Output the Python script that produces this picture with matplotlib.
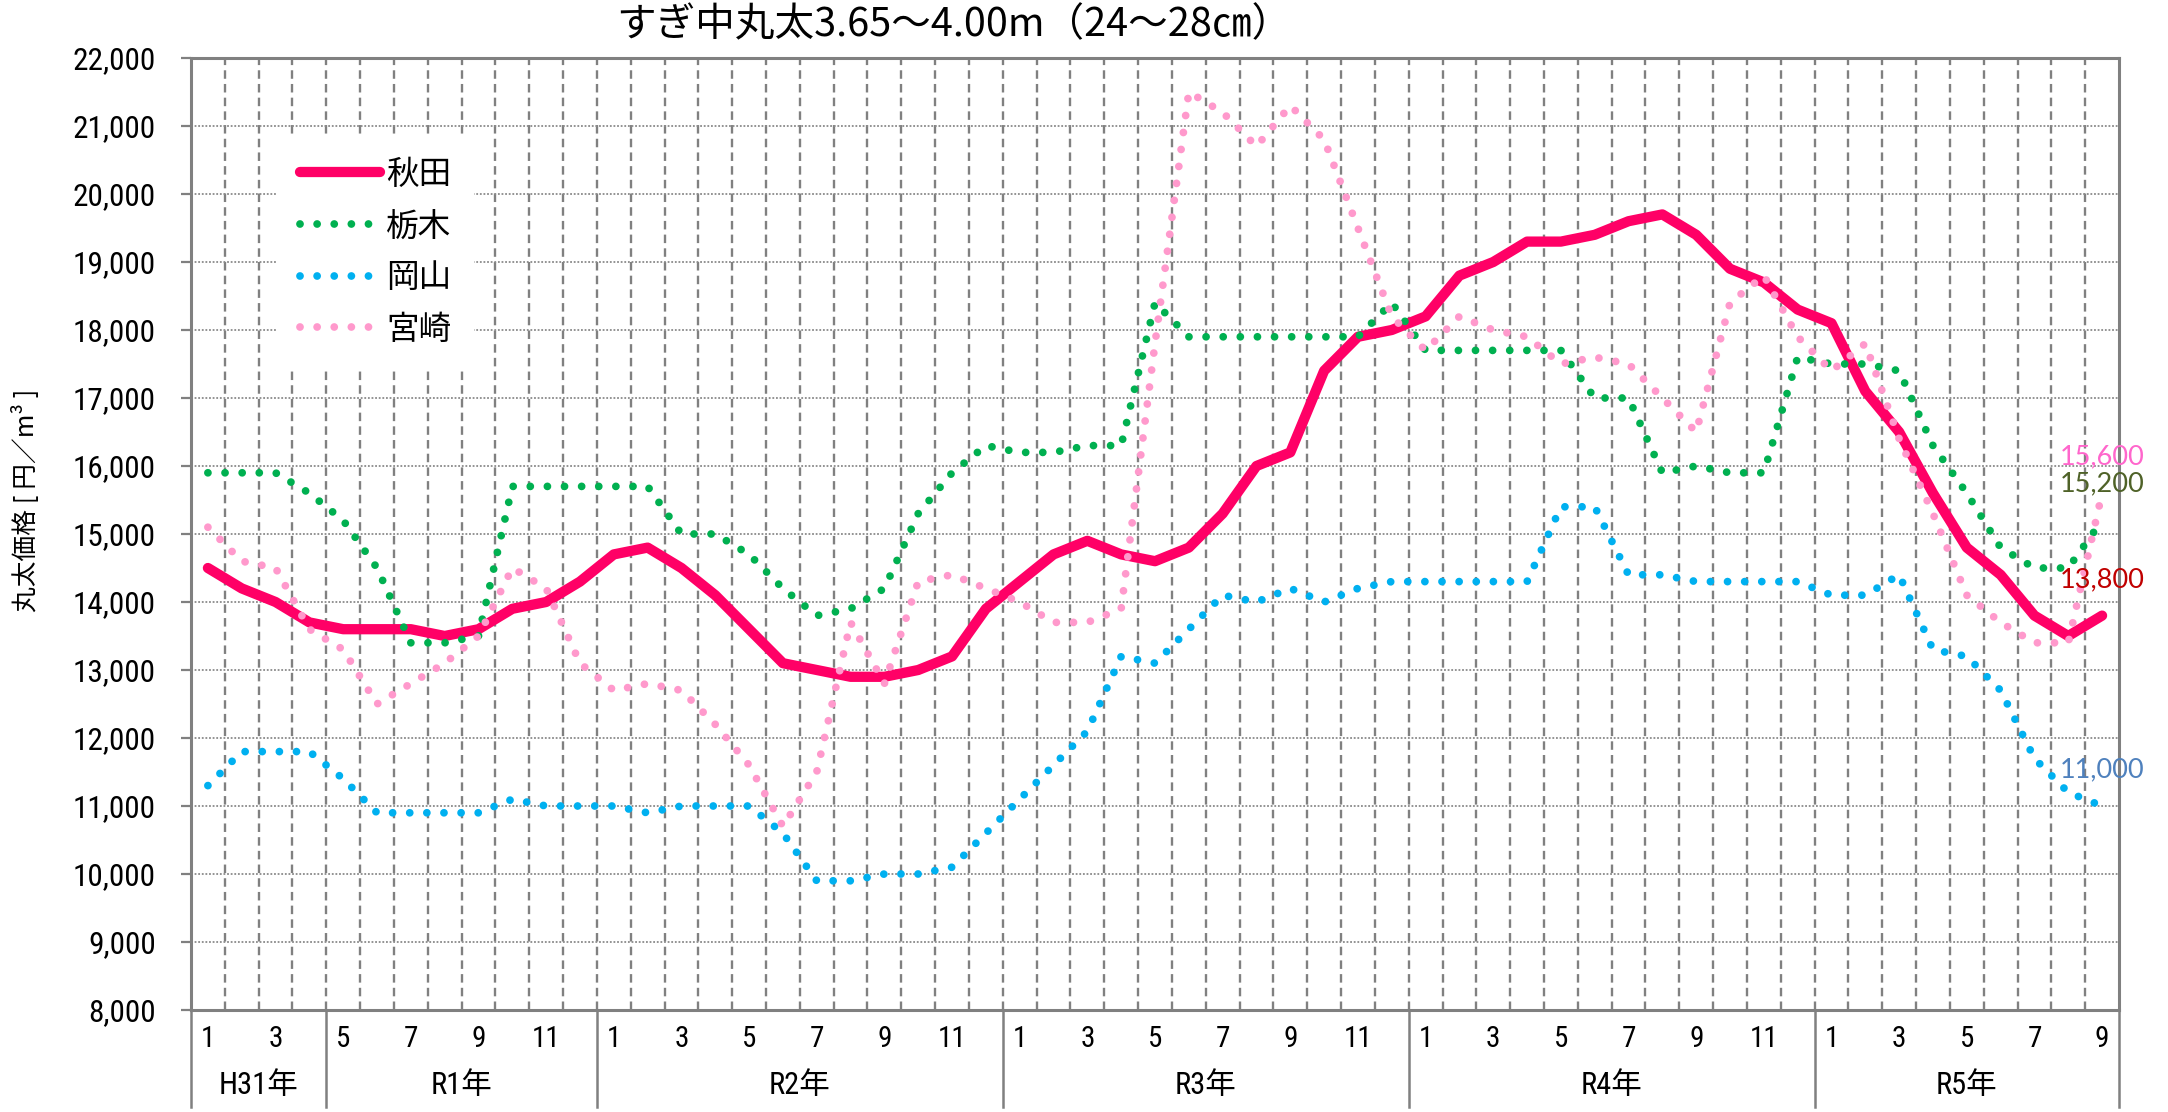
import numpy as np
import matplotlib
matplotlib.use("Agg")
import matplotlib.pyplot as plt
from matplotlib import font_manager as fm
from matplotlib.lines import Line2D
import matplotlib.transforms as mtrans

# ---------------- data ----------------
years = ["H31年", "R1年", "R2年", "R3年", "R4年", "R5年"]
year_months = [
    [1, 2, 3, 4],
    [5, 6, 7, 8, 9, 10, 11, 12],
    [1, 2, 3, 4, 5, 6, 7, 8, 9, 10, 11, 12],
    [1, 2, 3, 4, 5, 6, 7, 8, 9, 10, 11, 12],
    [1, 2, 3, 4, 5, 6, 7, 8, 9, 10, 11, 12],
    [1, 2, 3, 4, 5, 6, 7, 8, 9],
]

akita = [14500, 14200, 14000, 13700, 13600, 13600, 13600, 13500, 13600, 13900,
         14000, 14300, 14700, 14800, 14500, 14100, 13600, 13100, 13000, 12900,
         12900, 13000, 13200, 13900, 14300, 14700, 14900, 14700, 14600, 14800,
         15300, 16000, 16200, 17400, 17900, 18000, 18200, 18800, 19000, 19300,
         19300, 19400, 19600, 19700, 19400, 18900, 18700, 18300, 18100, 17100,
         16500, 15600, 14800, 14400, 13800, 13500, 13800]

tochigi = [15900, 15900, 15900, 15600, 15200, 14500, 13400, 13400, 13500, 15700,
           15700, 15700, 15700, 15700, 15000, 15000, 14700, 14200, 13800, 13900,
           14200, 15300, 15900, 16300, 16200, 16200, 16300, 16300, 18400, 17900,
           17900, 17900, 17900, 17900, 17900, 18400, 17700, 17700, 17700, 17700,
           17700, 17000, 17000, 15900, 16000, 15900, 15900, 17600, 17500, 17500,
           17400, 16300, 15600, 14800, 14500, 14500, 15200]

okayama = [11300, 11800, 11800, 11800, 11400, 10900, 10900, 10900, 10900, 11100,
           11000, 11000, 11000, 10900, 11000, 11000, 11000, 10600, 9900, 9900,
           10000, 10000, 10100, 10600, 11100, 11600, 12100, 13200, 13100, 13600,
           14100, 14000, 14200, 14000, 14200, 14300, 14300, 14300, 14300, 14300,
           15400, 15400, 14400, 14400, 14300, 14300, 14300, 14300, 14100, 14100,
           14400, 13300, 13200, 12700, 11700, 11200, 11000]

miyazaki = [15100, 14600, 14500, 13600, 13300, 12500, 12800, 13100, 13500, 14500,
            14200, 13100, 12700, 12800, 12700, 12200, 11600, 10700, 11500, 13700,
            12800, 14300, 14400, 14200, 14000, 13700, 13700, 13900, 17800, 21500,
            21200, 20700, 21300, 20800, 19500, 18200, 17700, 18200, 18000, 17900,
            17500, 17600, 17500, 17000, 16500, 18400, 18800, 17900, 17400, 17800,
            16400, 15300, 14100, 13700, 13400, 13400, 15600]

series_names = ["秋田", "栃木", "岡山", "宮崎"]
series_colors = ["#FF0066", "#00B050", "#00B0F0", "#FF99CC"]
end_label_colors = {"秋田": "#C00000", "栃木": "#4F6228", "岡山": "#4F81BD", "宮崎": "#FF66CC"}

title = "すぎ中丸太3.65～4.00m（24～28㎝）"
ylabel = "丸太価格 [ 円／m³ ]"
y_ticks = list(range(8000, 22001, 1000))

# ---------------- fonts ----------------
def has_font(name):
    try:
        fm.findfont(fm.FontProperties(family=name), fallback_to_default=False)
        return True
    except Exception:
        return False

CJK = "Noto Sans CJK JP"
narrow, tick_size = CJK, 20
for cand in ["Liberation Sans Narrow", "Roboto Condensed", "Open Sans Condensed"]:
    if has_font(cand):
        narrow, tick_size = cand, 22.5
        break
lab_font = "Lato" if has_font("Lato") else "DejaVu Sans"
plt.rcParams["font.family"] = [CJK, "DejaVu Sans"]

# ---------------- figure ----------------
W, H = 2168, 1112
fig = plt.figure(figsize=(W / 100, H / 100), dpi=100)
L, R, T, B = 191, 2119, 58, 1010
ax = fig.add_axes([L / W, 1 - B / H, (R - L) / W, (B - T) / H])

months = [m for ms in year_months for m in ms]
n = len(months)
x = np.arange(n)

grey = "#808080"

# lines (Akita at bottom)
ax.plot(x, akita, color=series_colors[0], lw=7.4, solid_capstyle="round",
        solid_joinstyle="round", zorder=3, label=series_names[0])
dot_style = dict(lw=5.6, linestyle=(0, (0.001, 2.2)), dash_capstyle="round")
ax.plot(x, tochigi, color=series_colors[1], zorder=4, label=series_names[1], **dot_style)
ax.plot(x, okayama, color=series_colors[2], zorder=4, label=series_names[2], **dot_style)
ax.plot(x, miyazaki, color=series_colors[3], zorder=4, label=series_names[3], **dot_style)

ax.set_xlim(-0.5, n - 0.5)
ax.set_ylim(8000, 22000)

# y axis
ax.set_yticks(y_ticks)
ax.set_yticklabels([f"{v:,}" for v in y_ticks])
for t in ax.get_yticklabels():
    t.set_fontfamily([narrow, CJK])
    t.set_fontsize(tick_size)
ax.tick_params(axis="y", which="major", length=7.2, width=1.6, color=grey, pad=18)

# grids
ax.grid(axis="y", which="major", color="#8a8a8a", lw=1.3, linestyle=(0, (1, 1)), zorder=1)
ax.set_xticks([])
ax.set_xticks(np.arange(0.5, n - 0.5, 1), minor=True)
ax.tick_params(axis="x", which="minor", length=0, labelbottom=False)
ax.grid(axis="x", which="minor", color=grey, lw=1.7, linestyle=(0, (3.6, 2.2)), zorder=1)
ax.set_axisbelow(True)

for s in ["left", "top", "right", "bottom"]:
    ax.spines[s].set_color(grey)
    ax.spines[s].set_linewidth(2.2)

# category axis (months and years)
trans = mtrans.blended_transform_factory(ax.transData, ax.transAxes)
y_month = (B - 1039) / (B - T)
y_year = (B - 1085) / (B - T)
y_bottom = (B - 1107) / (B - T)
for i, m in enumerate(months):
    if i % 2 == 0:
        ax.text(i, y_month, str(m), transform=trans, ha="center", va="center",
                fontsize=21, family=[narrow, CJK])
start = 0
bounds = [-0.5]
for yname, ms in zip(years, year_months):
    end = start + len(ms)
    ax.text((start + end - 1) / 2, y_year, yname, transform=trans, ha="center",
            va="center", fontsize=22, family=[narrow, CJK])
    bounds.append(end - 0.5)
    start = end
for b in bounds:
    ax.plot([b, b], [0, y_bottom], transform=trans, color=grey, lw=1.8,
            clip_on=False, zorder=5)

# end-point labels
last_vals = {"秋田": akita[-1], "栃木": tochigi[-1], "岡山": okayama[-1], "宮崎": miyazaki[-1]}
for name, v in last_vals.items():
    ax.annotate(f"{v:,}", xy=(n - 1, v), xytext=(0, 26), textcoords="offset points",
                ha="center", va="center", color=end_label_colors[name],
                fontsize=19.5, family=[lab_font, "DejaVu Sans"], zorder=6)

# legend
handles = [
    Line2D([0], [0], color=series_colors[0], lw=7.4, solid_capstyle="round"),
    Line2D([0], [0], color=series_colors[1], **dot_style),
    Line2D([0], [0], color=series_colors[2], **dot_style),
    Line2D([0], [0], color=series_colors[3], **dot_style),
]
leg = ax.legend(handles, series_names, loc="upper left",
                bbox_to_anchor=((277 - L) / (R - L), (B - 136) / (B - T)),
                borderaxespad=0, frameon=True, fancybox=False, framealpha=1,
                facecolor="white", edgecolor="none", handlelength=2.45,
                handletextpad=0.2, labelspacing=0.6, borderpad=0.7,
                prop=fm.FontProperties(family=CJK, size=23.5))
leg.set_zorder(10)

# titles
fig.text(954 / W, 1 - 25 / H, title, ha="center", va="center", fontsize=28.5,
         family=[CJK, "DejaVu Sans"])
fig.text(26 / W, 1 - 500 / H, ylabel, ha="center", va="center", rotation=90,
         fontsize=18.5, family=[CJK, "DejaVu Sans"])

fig.savefig("out.png", dpi=100, facecolor="white")
